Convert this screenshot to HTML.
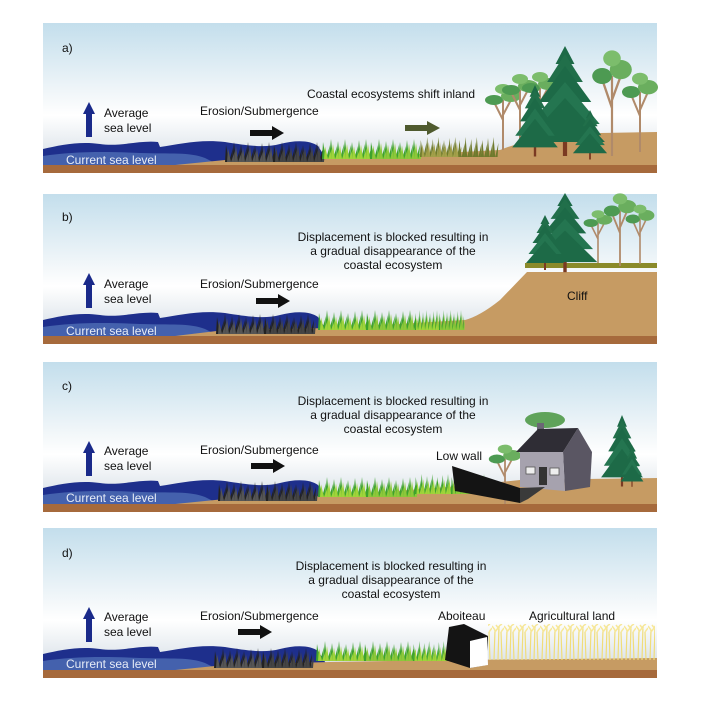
<!DOCTYPE html>
<html><head><meta charset="utf-8"><style>
html,body{margin:0;padding:0;background:#fff;}
svg{display:block;}
text{font-family:"Liberation Sans",sans-serif;font-size:12px;fill:#111;}
</style></head><body>
<svg width="701" height="701" viewBox="0 0 701 701" xmlns="http://www.w3.org/2000/svg">
<defs>
<linearGradient id="sky" x1="0" y1="0" x2="0" y2="1">
<stop offset="0" stop-color="#c3deec"/><stop offset="0.5" stop-color="#f4f8fa"/><stop offset="0.62" stop-color="#ffffff"/><stop offset="1" stop-color="#cfd9e2"/>
</linearGradient>
<pattern id="wheat" x="0" y="624" width="12" height="36" patternUnits="userSpaceOnUse">
<path d="M2,36 L3,6 M6,36 L7,2 M10,36 L9,8" stroke="#f0dd7a" stroke-width="1.2"/>
<path d="M3,6 L0,2 M3,8 L6,4 M7,2 L10,0 M7,5 L4,1 M9,8 L12,4" stroke="#f7e89a" stroke-width="1.5"/>
</pattern>
<path id="blades" d="M0,20 L1,3 L4,20Z M4,20 L8,6 L7,20Z M7,20 L9,0 L11,20Z M11,20 L15,7 L14,20Z M14,20 L16,2 L18,20Z M18,20 L22,5 L21,20Z M21,20 L23,0 L25,20Z M25,20 L29,6 L28,20Z M28,20 L30,3 L32,20Z M32,20 L36,7 L35,20Z M35,20 L37,1 L39,20Z M39,20 L43,5 L42,20Z M42,20 L44,0 L46,20Z M46,20 L50,6 L49,20Z"/>
<g id="gblack">
<use href="#blades" fill="#222"/>
<use href="#blades" fill="#555" transform="translate(2,4) scale(1,0.8)"/>
<use href="#blades" fill="#222" transform="translate(48,0)"/>
<use href="#blades" fill="#444" transform="translate(50,3) scale(1,0.85)"/>
</g>
<g id="ggreen">
<use href="#blades" fill="#3da22d"/>
<use href="#blades" fill="#9fd43a" transform="translate(2,5) scale(1,0.75)"/>
<use href="#blades" fill="#3da22d" transform="translate(48,0)"/>
<use href="#blades" fill="#8dc83a" transform="translate(50,4) scale(1,0.8)"/>
</g>
<g id="golive">
<use href="#blades" fill="#6f7a2c"/>
<use href="#blades" fill="#a3a04a" transform="translate(2,5) scale(1,0.75)"/>
<use href="#blades" fill="#6f7a2c" transform="translate(48,0)"/>
</g>
<g id="pine">
<rect x="-2" y="70" width="4" height="40" fill="#7a3a22"/>
<polygon points="0,0 -9,18 9,18" fill="#1d6a47"/>
<polygon points="0,8 -17,36 17,36" fill="#216f4a"/>
<polygon points="0,20 -25,56 25,56" fill="#1d6a47"/>
<polygon points="0,36 -33,78 33,78" fill="#247550"/>
<polygon points="0,52 -38,96 38,96" fill="#1d6a47"/>
</g>
<g id="dtree">
<path d="M0,60 L0,10 M0,30 L-9,12 M0,25 L9,8" stroke="#b08a6a" stroke-width="2" fill="none"/>
<ellipse cx="-9" cy="10" rx="9" ry="5" fill="#4d9a52"/>
<ellipse cx="8" cy="6" rx="10" ry="6" fill="#6aae5e"/>
<ellipse cx="0" cy="-1" rx="8" ry="5" fill="#7cbd6c"/>
</g>
<g id="base">
<rect x="43" y="23" width="614" height="149" fill="url(#sky)"/>
<path d="M43,149 C60,145 80,141 100,144 C120,147 140,140 158,142 L160,147 C180,144 200,139 225,142 C250,146 265,148 280,144 C295,140 310,140 318,146 L327,160 L175,165 L43,165Z" fill="#1e2f8c"/>
<path d="M43,156 C70,152 100,151 140,153 C170,154 190,152 205,158 L215,163 L175,165 L43,165Z" fill="#4461ad"/>
<rect x="43" y="165" width="614" height="8" fill="#a66a3c"/>
<polygon points="89,102 95,114 92,114 92,137 86,137 86,114 83,114" fill="#1a2a8a"/>
</g>
<g id="blackarrow"><polygon points="0,-3 22,-3 22,-7 34,0 22,7 22,3 0,3" fill="#111"/></g>
</defs>

<!-- Panel a -->
<use href="#base"/>
<path d="M175,165 L225,160 L330,159 L500,150 Q540,134 600,133 L657,132 L657,165Z" fill="#c69b63"/>
<use href="#gblack" transform="translate(225,142)"/>
<use href="#ggreen" transform="translate(322,139)"/>
<use href="#golive" transform="translate(420,137) scale(0.8,1)"/>
<use href="#dtree" transform="translate(503,90)"/>
<use href="#dtree" transform="translate(520,80)"/>
<use href="#dtree" transform="translate(540,78)"/>
<use href="#dtree" transform="translate(612,60) scale(1.1,1.6)"/>
<use href="#dtree" transform="translate(640,80) scale(1,1.2)"/>
<use href="#pine" transform="translate(565,46) scale(1.05,1.0)"/>
<use href="#pine" transform="translate(535,85) scale(0.6,0.65)"/>
<use href="#pine" transform="translate(590,110) scale(0.45,0.45)"/>
<polygon points="405,125 427,125 427,121 440,128 427,135 427,131 405,131" fill="#4f5a2e"/>
<use href="#blackarrow" transform="translate(250,133)"/>
<text x="62" y="52" font-size="14">a)</text>
<text x="104" y="117">Average</text><text x="104" y="132">sea level</text>
<text x="66" y="164" style="fill:#e6ecf7">Current sea level</text>
<text x="200" y="115">Erosion/Submergence</text>
<text x="307" y="98">Coastal ecosystems shift inland</text>

<!-- Panel b -->
<use href="#base" transform="translate(0,171)"/>
<path d="M175,336 L225,330 L330,328 L465,320 Q480,316 500,300 L527,272 L657,272 L657,336Z" fill="#c69b63"/>
<rect x="525" y="263" width="132" height="5" fill="#8a8a2a"/>
<use href="#gblack" transform="translate(216,314)"/>
<use href="#ggreen" transform="translate(318,310)"/>
<use href="#ggreen" transform="translate(415,310) scale(0.5,1)"/>
<use href="#dtree" transform="translate(598,215) scale(0.8,0.8)"/>
<use href="#dtree" transform="translate(620,200) scale(0.9,1.1)"/>
<use href="#dtree" transform="translate(640,210) scale(0.8,0.9)"/>
<use href="#pine" transform="translate(565,193) scale(0.85,0.72)"/>
<use href="#pine" transform="translate(545,215) scale(0.5,0.5)"/>
<use href="#blackarrow" transform="translate(256,301)"/>
<text x="62" y="221" font-size="14">b)</text>
<text x="104" y="288">Average</text><text x="104" y="303">sea level</text>
<text x="66" y="335" style="fill:#e6ecf7">Current sea level</text>
<text x="200" y="288">Erosion/Submergence</text>
<text x="393" y="241" text-anchor="middle">Displacement is blocked resulting in</text>
<text x="393" y="255" text-anchor="middle">a gradual disappearance of the</text>
<text x="393" y="269" text-anchor="middle">coastal ecosystem</text>
<text x="567" y="300">Cliff</text>

<!-- Panel c -->
<use href="#base" transform="translate(0,339)"/>
<path d="M175,504 L225,499 L330,496 L460,486 L520,480 L657,478 L657,504Z" fill="#c69b63"/>
<use href="#gblack" transform="translate(218,481)"/>
<use href="#ggreen" transform="translate(318,477)"/>
<use href="#ggreen" transform="translate(415,474) scale(0.75,1)"/>
<use href="#dtree" transform="translate(505,450) scale(0.9,0.9)"/>
<ellipse cx="545" cy="420" rx="20" ry="8" fill="#5fa35a"/>
<use href="#pine" transform="translate(622,415) scale(0.55,0.65)"/>
<use href="#pine" transform="translate(632,445) scale(0.3,0.38)"/>
<polygon points="563,452 578,428 592,452 590,487 565,491" fill="#5a5663"/>
<polygon points="520,452 563,452 565,491 520,487" fill="#a6a2ae"/>
<rect x="537" y="423" width="7" height="15" fill="#6b6775"/>
<polygon points="516,452 538,429 578,428 563,452" fill="#2f2d35"/>
<rect x="526" y="467" width="9" height="7" fill="#eee" stroke="#555" stroke-width="0.8"/>
<rect x="550" y="468" width="9" height="7" fill="#eee" stroke="#555" stroke-width="0.8"/>
<rect x="539" y="467" width="8" height="18" fill="#333"/>
<polygon points="452,466 520,488 520,503 455,491" fill="#141414"/>
<polygon points="520,488 545,487 528,499 520,503" fill="#3a3a3a"/>
<use href="#blackarrow" transform="translate(251,466)"/>
<text x="62" y="390" font-size="14">c)</text>
<text x="104" y="455">Average</text><text x="104" y="470">sea level</text>
<text x="66" y="502" style="fill:#e6ecf7">Current sea level</text>
<text x="200" y="454">Erosion/Submergence</text>
<text x="393" y="405" text-anchor="middle">Displacement is blocked resulting in</text>
<text x="393" y="419" text-anchor="middle">a gradual disappearance of the</text>
<text x="393" y="433" text-anchor="middle">coastal ecosystem</text>
<text x="436" y="460">Low wall</text>

<!-- Panel d -->
<use href="#base" transform="translate(0,505)"/>
<path d="M175,670 L225,665 L330,662 L450,660 L657,658 L657,670Z" fill="#c69b63"/>
<use href="#gblack" transform="translate(214,648)"/>
<use href="#ggreen" transform="translate(316,641)"/>
<use href="#ggreen" transform="translate(413,641) scale(0.7,1)"/>
<rect x="488" y="624" width="167" height="36" fill="url(#wheat)"/>
<polygon points="449,627 464,624 488,636 487,665 470,668 445,660" fill="#141414"/>
<polygon points="470,641 487,637 488,665 470,668" fill="#fff"/>
<use href="#blackarrow" transform="translate(238,632)"/>
<text x="62" y="557" font-size="14">d)</text>
<text x="104" y="621">Average</text><text x="104" y="636">sea level</text>
<text x="66" y="668" style="fill:#e6ecf7">Current sea level</text>
<text x="200" y="620">Erosion/Submergence</text>
<text x="391" y="570" text-anchor="middle">Displacement is blocked resulting in</text>
<text x="391" y="584" text-anchor="middle">a gradual disappearance of the</text>
<text x="391" y="598" text-anchor="middle">coastal ecosystem</text>
<text x="438" y="620">Aboiteau</text>
<text x="529" y="620">Agricultural land</text>
</svg>
</body></html>
